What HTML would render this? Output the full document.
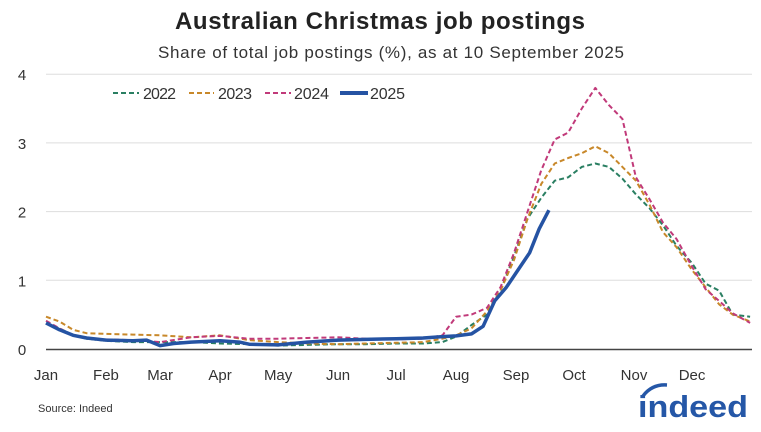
<!DOCTYPE html>
<html><head><meta charset="utf-8"><style>
body{margin:0;background:#fff;font-family:"Liberation Sans",sans-serif}
</style></head><body>
<svg id="c" width="761" height="427" viewBox="0 0 761 427" xmlns="http://www.w3.org/2000/svg">
<text x="380" y="29" text-anchor="middle" font-size="24" font-weight="bold" fill="#222" textLength="410">Australian Christmas job postings</text>
<text x="391" y="58" text-anchor="middle" font-size="17" fill="#333" textLength="466">Share of total job postings (%), as at 10 September 2025</text>
<g id="grid"></g><g id="series"></g>
<g>
<line x1="113" y1="93" x2="139" y2="93" stroke="#2a7f62" stroke-width="2" stroke-dasharray="5,3"/><text x="143" y="99" font-size="16" fill="#333" textLength="33">2022</text>
<line x1="189" y1="93" x2="214" y2="93" stroke="#c8882a" stroke-width="2" stroke-dasharray="5,3"/><text x="218" y="99" font-size="16" fill="#333" textLength="34">2023</text>
<line x1="265" y1="93" x2="291" y2="93" stroke="#c13a7a" stroke-width="2" stroke-dasharray="5,3"/><text x="294" y="99" font-size="16" fill="#333" textLength="35">2024</text>
<line x1="340" y1="93" x2="368" y2="93" stroke="#2553a3" stroke-width="4"/><text x="370" y="99" font-size="16" fill="#333" textLength="35">2025</text>
</g>
<text x="38" y="412" font-size="11" fill="#333">Source: Indeed</text>
<g>
<path d="M643 396 Q652 384 667 385" stroke="#2557a7" stroke-width="3.5" fill="none"/>
<text x="638" y="417" font-size="31" font-weight="bold" fill="#2557a7" textLength="110" lengthAdjust="spacingAndGlyphs">indeed</text>
</g>
</svg>
<script>
const yTicks=[0,1,2,3,4];
const months=["Jan","Feb","Mar","Apr","May","Jun","Jul","Aug","Sep","Oct","Nov","Dec"];
const monthDays=[0,31,59,90,120,151,181,212,243,273,304,334];
const days=[0,7,14,21,31,45,59,75,90,105,120,135,151,165,181,195,205,212,220,228,235,242,249,256,263,270,277,284,291,298,305,312,319,326,334,341,348,355,364];
const v2022=[0.37,0.3,0.2,0.15,0.12,0.1,0.1,0.1,0.08,0.07,0.05,0.06,0.07,0.07,0.08,0.08,0.1,0.18,0.35,0.5,0.85,1.35,1.9,2.2,2.45,2.5,2.65,2.7,2.65,2.48,2.25,2.05,1.8,1.5,1.25,0.95,0.85,0.5,0.47];
const v2023=[0.47,0.4,0.28,0.23,0.22,0.21,0.2,0.17,0.2,0.13,0.1,0.08,0.07,0.08,0.09,0.1,0.15,0.2,0.3,0.55,0.85,1.3,1.9,2.4,2.7,2.78,2.85,2.95,2.85,2.65,2.45,2.1,1.7,1.48,1.15,0.9,0.65,0.5,0.4];
const v2024=[0.41,0.3,0.2,0.16,0.14,0.13,0.1,0.17,0.19,0.15,0.15,0.16,0.17,0.15,0.14,0.15,0.2,0.47,0.5,0.6,0.9,1.4,2.0,2.6,3.05,3.15,3.5,3.8,3.55,3.35,2.5,2.18,1.84,1.6,1.2,0.87,0.7,0.52,0.38];
const days2025=[0,7,14,21,31,45,52,59,66,75,90,100,105,120,135,151,165,181,195,205,212,220,226,232,238,244,250,255,260];
const v2025=[0.38,0.28,0.2,0.16,0.13,0.12,0.13,0.05,0.08,0.1,0.12,0.1,0.07,0.06,0.1,0.13,0.14,0.15,0.16,0.18,0.19,0.22,0.33,0.7,0.9,1.15,1.4,1.75,2.02];
const X=d=>46+d*(752-46)/365, Y=v=>349-v*68.7;
const NS="http://www.w3.org/2000/svg";
const g=document.getElementById('grid'), s=document.getElementById('series');
function mk(tag,at,par){const e=document.createElementNS(NS,tag);for(const k in at)e.setAttribute(k,at[k]);par.appendChild(e);return e;}
yTicks.forEach(t=>{
 if(t>0){const l=mk('line',{x1:46,x2:752,y1:Y(t),y2:Y(t),stroke:'#ddd','stroke-width':1},g);
 
 }
 const tx=mk('text',{x:22,y:Y(t)+6,'font-size':15,fill:'#333','text-anchor':'middle'},g);tx.textContent=t;
 
 
});
const ax=mk('line',{x1:46,x2:752,y1:349.5,y2:349.5,stroke:'#444','stroke-width':1.5},g);


months.forEach((m,i)=>{const tx=mk('text',{x:X(monthDays[i]),y:380,'font-size':15,fill:'#333','text-anchor':'middle'},g);tx.textContent=m;
 
 });
function line(ds,vs,col,w,dash,name){
 const p=mk('path',{d:ds.map((d,i)=>(i?'L':'M')+X(d).toFixed(1)+' '+Y(vs[i]).toFixed(1)).join(''),fill:'none',stroke:col,'stroke-width':w,'stroke-linejoin':'round'},s);
 if(dash)p.setAttribute('stroke-dasharray',dash);
 
 
}
line(days,v2022,'#2a7f62',2,'5,3','line-2022');
line(days,v2023,'#c8882a',2,'5,3','line-2023');
line(days,v2024,'#c13a7a',2,'5,3','line-2024');
line(days2025,v2025,'#2553a3',3.5,null,'line-2025');
</script>
</body></html>
